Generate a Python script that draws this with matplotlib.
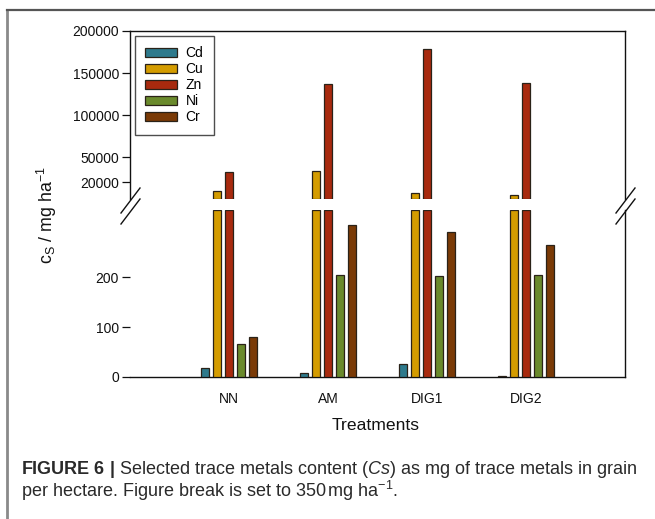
import matplotlib
matplotlib.use("Agg")
import matplotlib.pyplot as plt
import numpy as np
from matplotlib.lines import Line2D
from matplotlib.patches import Patch

plt.rcParams['font.family'] = ['Liberation Sans', 'DejaVu Sans']
plt.rcParams['mathtext.fontset'] = 'custom'
plt.rcParams['mathtext.rm'] = 'Liberation Sans'
plt.rcParams['mathtext.it'] = 'Liberation Sans:italic'
plt.rcParams['mathtext.bf'] = 'Liberation Sans:bold'

# Data (mg ha^-1)
treatments = ["NN", "AM", "DIG1", "DIG2"]
metals = ["Cd", "Cu", "Zn", "Ni", "Cr"]
cd = [19, 9, 27, 2]
cu = [10400, 33700, 7100, 5600]
zn = [32500, 136500, 178600, 138500]
ni = [67, 205, 202, 205]
cr = [81, 305, 291, 265]
series = [cd, cu, zn, ni, cr]
colors = ["#2E7A8C", "#D49C00", "#A82A0E", "#6A8A2C", "#7A3A06"]
edge = "#2a2218"

break_value = 350
upper_ticks = [20000, 50000, 100000, 150000, 200000]
lower_ticks = [0, 100, 200]
lower_top = 335

W, H = 655, 519
fig = plt.figure(figsize=(W / 100, H / 100), dpi=100)


def fx(px):
    return px / W


def fy(py):
    return 1 - py / H


left, right = 130, 625
ax_top = fig.add_axes([fx(left), fy(199), (right - left) / W, (199 - 31) / H])
ax_bot = fig.add_axes([fx(left), fy(377), (right - left) / W, (377 - 210) / H])

x = np.arange(1, len(treatments) + 1)
step = 0.12
width = 0.08
for i, (vals, c) in enumerate(zip(series, colors)):
    v = np.asarray(vals, dtype=float)
    pos = x + (i - 2) * step
    # upper segment: only the part above the break
    above = v > break_value
    if above.any():
        ax_top.bar(pos[above], v[above] - break_value, bottom=break_value,
                   width=width, color=c, edgecolor=edge, linewidth=0.9,
                   zorder=3)
    # lower segment: capped at the break
    ax_bot.bar(pos, np.minimum(v, lower_top), width=width, color=c,
               edgecolor=edge, linewidth=0.9, zorder=3)

for ax in (ax_top, ax_bot):
    ax.set_xlim(0, 5)
    ax.tick_params(axis='y', direction='out', length=6, width=0.9,
                   labelsize=10, pad=2, colors='#111111')
    for s in ax.spines.values():
        s.set_linewidth(1.0)
        s.set_color('#111111')

ax_top.set_ylim(break_value, 200000)
ax_top.set_yticks(upper_ticks)
ax_top.set_yticklabels([str(t) for t in upper_ticks])
ax_top.spines['bottom'].set_visible(False)
ax_top.set_xticks([])

ax_bot.set_ylim(0, lower_top)
ax_bot.set_yticks(lower_ticks)
ax_bot.set_yticklabels([str(t) for t in lower_ticks])
ax_bot.spines['top'].set_visible(False)
ax_bot.spines['left'].set_visible(False)
ax_bot.set_xticks(x)
ax_bot.set_xticklabels(treatments)
ax_bot.tick_params(axis='x', length=0, labelsize=10, pad=11, colors='#111111')

# Legend
handles = [Patch(facecolor=c, edgecolor=edge, linewidth=0.9) for c in colors]
leg = ax_top.legend(handles, metals, loc='upper left',
                    bbox_to_anchor=(5 / (right - left), 1 - 5 / 168),
                    borderaxespad=0, fontsize=10, frameon=True,
                    fancybox=False, edgecolor='#222222', handlelength=2.25,
                    handleheight=0.6, handletextpad=0.65, labelspacing=0.14,
                    borderpad=0.75)
leg.get_frame().set_linewidth(1.0)

# Axis break marks
for dx in (left, right):
    for dy in (0, 11):
        fig.add_artist(Line2D([fx(dx - 9), fx(dx + 10)],
                              [fy(213 + dy), fy(188 + dy)],
                              color='#111111', lw=1.0))

# Axis titles
fig.text(fx(47), fy(215), r'c$_{\mathrm{S}}$ / mg ha$^{-1}$', rotation=90,
         ha='center', va='center', fontsize=12.8, color='#111111')
fig.text(fx(376), fy(425), 'Treatments', ha='center', va='center',
         fontsize=12.6, color='#111111')

# Caption
fig.text(fx(21), fy(469),
         r'$\mathbf{FIGURE\ 6\ |}$ Selected trace metals content '
         r'($\mathit{Cs}$) as mg of trace metals in grain',
         ha='left', va='center', fontsize=13, color='#2a2a2a')
fig.text(fx(21), fy(491),
         r'per hectare. Figure break is set to 350$\,$mg ha$^{-1}$.',
         ha='left', va='center', fontsize=13, color='#2a2a2a')

# Panel frame
fig.add_artist(Line2D([fx(7), fx(7)], [fy(9.5), 0], color='#8a8a8a', lw=2))
fig.add_artist(Line2D([fx(7), 1], [fy(9.5), fy(9.5)], color='#555555', lw=1.6))

fig.savefig("out.png", dpi=100)
